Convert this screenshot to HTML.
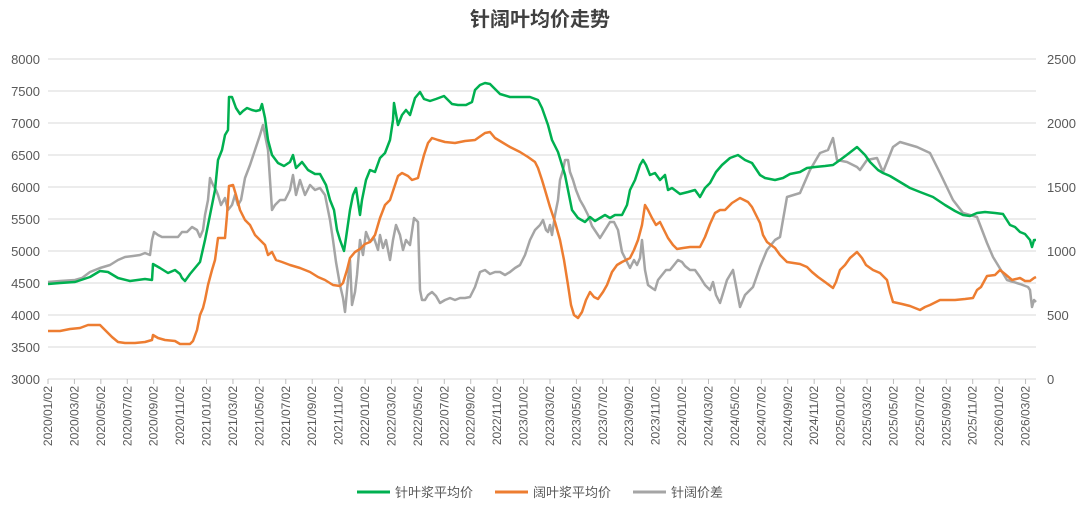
<!DOCTYPE html>
<html><head><meta charset="utf-8"><style>
body{margin:0;background:#fff;}
svg text{font-family:"Liberation Sans","Noto Sans CJK SC",sans-serif;}
</style></head><body>
<svg width="1080" height="510" xmlns="http://www.w3.org/2000/svg">
<text x="540" y="26" text-anchor="middle" font-size="20" font-weight="bold" fill="#404040">针阔叶均价走势</text>
<g stroke="#d9d9d9" stroke-width="1">
<line x1="48" x2="1036" y1="59" y2="59"/><line x1="48" x2="1036" y1="91" y2="91"/><line x1="48" x2="1036" y1="123" y2="123"/><line x1="48" x2="1036" y1="155" y2="155"/><line x1="48" x2="1036" y1="187" y2="187"/><line x1="48" x2="1036" y1="219" y2="219"/><line x1="48" x2="1036" y1="251" y2="251"/><line x1="48" x2="1036" y1="283" y2="283"/><line x1="48" x2="1036" y1="315" y2="315"/><line x1="48" x2="1036" y1="347" y2="347"/><line x1="48" x2="1036" y1="379" y2="379"/>
</g>
<g font-size="13" fill="#595959" text-anchor="end">
<text x="40" y="64">8000</text><text x="40" y="96">7500</text><text x="40" y="128">7000</text><text x="40" y="160">6500</text><text x="40" y="192">6000</text><text x="40" y="224">5500</text><text x="40" y="256">5000</text><text x="40" y="288">4500</text><text x="40" y="320">4000</text><text x="40" y="352">3500</text><text x="40" y="384">3000</text>
</g>
<g font-size="13" fill="#595959">
<text x="1047" y="64">2500</text><text x="1047" y="128">2000</text><text x="1047" y="192">1500</text><text x="1047" y="256">1000</text><text x="1047" y="320">500</text><text x="1047" y="384">0</text>
</g>
<g id="xt" font-size="12" fill="#595959"></g>
<g stroke="#bfbfbf" stroke-width="1" id="tk"></g>
<polyline fill="none" stroke="#a5a5a5" stroke-width="2.5" stroke-linejoin="round" points="48,282 60,281 75,280 82,278 90,272 100,268 110,265 118,260 125,257 133,256 140,255 145,253 150,255 152,240 154,232 158,235 162,237 170,237 178,237 182,232 187,232 192,227 197,230 200,237 203,230 205,215 208,200 210,178 213,185 216,190 218,195 221,205 225,198 228,210 232,205 235,195 238,205 241,200 245,178 250,165 255,150 260,135 263,125 265,135 268,150 270,180 272,210 275,205 280,200 285,200 290,190 293,175 296,195 300,180 305,195 310,185 315,190 320,188 325,195 330,220 333,240 336,262 340,285 343,298 345,312 348,280 350,260 352,305 355,292 357,275 360,240 363,255 366,232 370,242 374,238 378,250 380,235 383,248 386,240 390,260 393,240 396,225 400,235 403,250 406,240 410,245 414,218 418,222 420,290 422,300 425,300 428,295 432,292 436,296 440,303 445,300 450,298 455,300 460,298 465,298 470,297 475,287 480,272 485,270 490,274 495,272 500,272 505,275 510,272 515,268 520,265 525,255 530,240 535,230 540,225 543,220 546,230 548,232 550,225 552,235 555,215 558,200 560,180 563,170 565,160 568,160 570,172 573,180 576,190 580,200 584,207 588,215 592,226 596,232 600,238 605,230 610,222 614,222 618,230 622,252 626,260 630,268 634,260 637,265 640,258 642,240 645,270 648,285 652,288 655,290 658,280 662,275 666,270 670,270 674,265 678,260 682,262 685,266 690,270 695,270 700,277 705,285 710,290 713,282 716,295 720,303 724,290 727,280 733,270 740,307 745,295 753,287 760,267 767,250 775,240 780,237 787,197 800,193 810,170 820,153 828,150 833,138 837,160 847,162 857,167 860,170 867,160 877,158 883,172 893,147 900,142 917,147 930,153 940,173 953,200 963,213 977,217 987,243 993,257 1007,280 1020,284 1028,287 1030,290 1032,307 1034,300 1036,302"/>
<polyline fill="none" stroke="#ed7d31" stroke-width="2.5" stroke-linejoin="round" points="48,331 60,331 70,329 80,328 88,325 100,325 105,330 112,337 118,342 125,343 135,343 145,342 152,340 153,335 158,338 165,340 175,341 180,344 190,344 193,341 197,330 200,315 203,308 205,300 208,285 212,270 215,260 218,238 221,238 225,238 227,215 229,186 233,185 236,195 240,210 245,220 250,225 255,235 260,240 265,245 268,255 272,252 276,260 282,262 290,265 300,268 310,272 318,277 325,280 333,285 340,286 343,283 347,270 350,258 355,252 360,249 365,244 370,242 375,235 380,218 385,205 390,200 395,185 398,176 402,173 408,176 412,180 418,178 420,170 424,155 428,143 432,138 438,140 445,142 455,143 465,141 475,140 485,133 490,132 495,138 500,141 510,147 520,152 528,157 535,162 538,168 542,180 545,190 550,207 555,222 560,240 564,260 568,285 571,305 574,315 578,318 582,312 586,300 590,292 594,297 598,299 603,292 607,285 612,272 617,265 622,262 626,260 630,258 634,250 638,240 642,225 645,205 648,210 652,218 656,225 660,222 664,230 668,238 673,245 677,249 683,248 690,247 700,247 705,237 710,224 715,213 720,210 725,210 732,203 740,198 748,202 752,207 756,215 760,223 763,235 767,242 775,248 780,255 787,262 800,264 807,267 812,272 818,277 825,282 833,288 836,282 840,270 845,265 850,258 857,252 862,258 866,265 873,270 880,273 887,280 890,292 893,302 902,304 910,306 920,310 925,307 930,305 940,300 955,300 965,299 973,298 977,290 981,287 987,276 995,275 1000,270 1005,274 1012,280 1016,279 1020,278 1025,281 1030,281 1034,278 1036,277"/>
<polyline fill="none" stroke="#00b050" stroke-width="2.5" stroke-linejoin="round" points="48,284 60,283 75,282 90,277 100,271 108,272 118,278 130,281 145,279 152,280 153,264 160,268 168,273 175,270 180,274 182,278 185,281 190,274 195,268 200,262 205,240 210,215 215,190 218,160 222,150 225,135 228,130 229,97 232,97 236,108 240,114 243,111 247,108 252,110 256,111 260,110 262,104 265,118 268,140 272,155 278,163 284,166 290,162 293,155 296,168 302,162 308,170 315,174 320,174 326,185 330,200 334,210 337,230 340,240 344,251 346,238 350,210 353,195 356,188 360,215 362,200 366,180 370,170 375,172 380,158 385,153 390,140 393,120 394,103 398,125 402,115 406,110 410,115 415,98 420,92 424,99 430,101 436,99 444,96 452,104 458,105 466,105 472,102 475,90 480,85 485,83 490,84 495,89 500,94 510,97 520,97 530,97 538,100 542,108 548,125 552,140 558,152 562,165 565,175 568,190 572,210 578,218 585,222 590,217 595,221 600,218 605,215 610,218 615,215 622,215 627,205 630,190 635,180 640,165 643,160 646,165 650,175 655,173 660,180 665,175 668,190 672,188 680,194 688,192 695,190 700,197 705,188 710,183 716,172 722,165 730,158 738,155 745,160 752,163 760,175 765,178 775,180 783,178 790,174 800,172 807,168 815,167 825,166 833,165 840,160 848,154 857,147 865,155 870,162 878,170 883,173 890,176 900,182 910,188 920,192 933,197 945,205 955,211 963,215 970,216 977,213 985,212 995,213 1003,214 1010,225 1015,227 1020,232 1025,234 1030,240 1032,247 1034,240 1036,240"/>
<g font-size="13" fill="#595959">
<line x1="357" x2="390" y1="492" y2="492" stroke="#00b050" stroke-width="3"/><text x="395" y="497">针叶浆平均价</text>
<line x1="495" x2="528" y1="492" y2="492" stroke="#ed7d31" stroke-width="3"/><text x="533" y="497">阔叶浆平均价</text>
<line x1="633" x2="666" y1="492" y2="492" stroke="#a5a5a5" stroke-width="3"/><text x="671" y="497">针阔价差</text>
</g>
<script>
var xt=document.getElementById('xt'),tk=document.getElementById('tk'),ns='http://www.w3.org/2000/svg';
for(var i=0;i<38;i++){var m=i*2,y=2020+Math.floor(m/12),mo=(m%12)+1;var x=48+i*26.42;
var t=document.createElementNS(ns,'text');t.setAttribute('transform','translate('+(x+4)+',386) rotate(-90)');t.setAttribute('text-anchor','end');t.textContent=y+'/'+(mo<10?'0':'')+mo+'/02';xt.appendChild(t);
var l=document.createElementNS(ns,'line');l.setAttribute('x1',x);l.setAttribute('x2',x);l.setAttribute('y1',379);l.setAttribute('y2',384);tk.appendChild(l);}
</script>
</svg>
</body></html>
